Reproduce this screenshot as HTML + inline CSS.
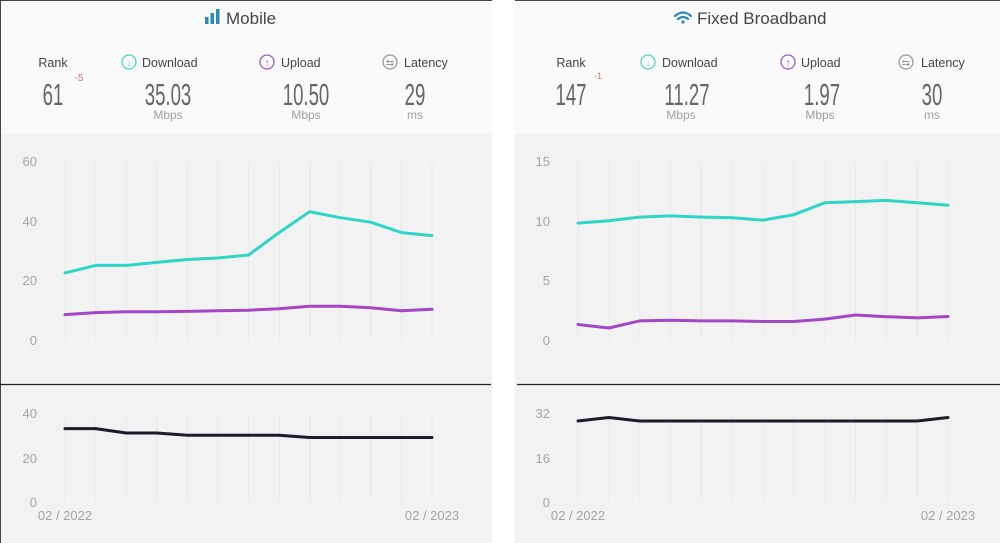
<!DOCTYPE html>
<html><head><meta charset="utf-8"><style>
html,body{margin:0;padding:0;background:#fff;}
svg{display:block;font-family:"Liberation Sans",sans-serif;}
.ax{fill:#a5a5a5;font-size:13px;}
.lb{fill:#444;font-size:12.5px;}
.big{fill:#666;font-size:31px;}
.un{fill:#a0a0a0;font-size:12px;}
.g{stroke:#e9e9e9;stroke-width:1;}
</style></head><body>
<svg width="1000" height="543" viewBox="0 0 1000 543">
<rect x="0" y="0" width="492" height="543" fill="#fafafa"/>
<rect x="0" y="134" width="492" height="409" fill="#f2f2f2"/>
<rect x="515" y="0" width="485" height="543" fill="#fafafa"/>
<rect x="515" y="134" width="485" height="409" fill="#f2f2f2"/>
<line x1="0" y1="0.5" x2="492" y2="0.5" stroke="#444"/>
<line x1="515" y1="0.5" x2="1000" y2="0.5" stroke="#444"/>
<line x1="0.5" y1="0" x2="0.5" y2="543" stroke="#444"/>
<line x1="0" y1="384.5" x2="491" y2="384.5" stroke="#222" stroke-width="1.3"/>
<line x1="517" y1="384.5" x2="1000" y2="384.5" stroke="#222" stroke-width="1.3"/>

<g fill="#2b8ab8"><rect x="205" y="17" width="3.5" height="7"/><rect x="210.5" y="13" width="3.5" height="11"/><rect x="216" y="9" width="3.5" height="15"/></g>
<text x="226" y="24" font-size="17" fill="#444">Mobile</text>
<text x="53" y="67" text-anchor="middle" class="lb">Rank</text>
<circle cx="129" cy="62" r="7" fill="none" stroke="#4fd3c4" stroke-width="1.3"/><text x="129" y="66" text-anchor="middle" font-size="10" fill="#4fd3c4">↓</text>
<text x="142" y="67" class="lb">Download</text>
<circle cx="267" cy="62" r="7" fill="none" stroke="#a05cc0" stroke-width="1.3"/><text x="267" y="66" text-anchor="middle" font-size="10" fill="#a05cc0">↑</text>
<text x="281" y="67" class="lb">Upload</text>
<circle cx="390" cy="62" r="7" fill="none" stroke="#999" stroke-width="1.3"/><text x="390" y="66" text-anchor="middle" font-size="10" fill="#999">⇆</text>
<text x="404" y="67" class="lb">Latency</text>
<g class="big" text-anchor="middle">
<text transform="translate(53,105) scale(0.6,1)">61</text>
<text transform="translate(168,105) scale(0.6,1)">35.03</text>
<text transform="translate(306,105) scale(0.6,1)">10.50</text>
<text transform="translate(415,105) scale(0.6,1)">29</text>
</g>
<text x="79" y="81" font-size="10" fill="#e07070" text-anchor="middle">-5</text>
<g class="un" text-anchor="middle"><text x="168" y="119">Mbps</text><text x="306" y="119">Mbps</text><text x="415" y="119">ms</text></g>

<g fill="none" stroke="#2b8ab8" stroke-width="2.2" stroke-linecap="round">
<path d="M675 16 Q683 9 691 16"/><path d="M678 19 Q683 15 688 19"/></g>
<circle cx="683" cy="22" r="1.6" fill="#2b8ab8"/>
<text x="697" y="24" font-size="17" fill="#444">Fixed Broadband</text>
<text x="571" y="67" text-anchor="middle" class="lb">Rank</text>
<circle cx="648" cy="62" r="7" fill="none" stroke="#4fd3c4" stroke-width="1.3"/><text x="648" y="66" text-anchor="middle" font-size="10" fill="#4fd3c4">↓</text>
<text x="662" y="67" class="lb">Download</text>
<circle cx="788" cy="62" r="7" fill="none" stroke="#a05cc0" stroke-width="1.3"/><text x="788" y="66" text-anchor="middle" font-size="10" fill="#a05cc0">↑</text>
<text x="801" y="67" class="lb">Upload</text>
<circle cx="906" cy="62" r="7" fill="none" stroke="#999" stroke-width="1.3"/><text x="906" y="66" text-anchor="middle" font-size="10" fill="#999">⇆</text>
<text x="921" y="67" class="lb">Latency</text>
<g class="big" text-anchor="middle">
<text transform="translate(571,105) scale(0.6,1)">147</text>
<text transform="translate(687,105) scale(0.6,1)">11.27</text>
<text transform="translate(822,105) scale(0.6,1)">1.97</text>
<text transform="translate(932,105) scale(0.6,1)">30</text>
</g>
<text x="598" y="79" font-size="9" fill="#e07070" text-anchor="middle">-1</text>
<g class="un" text-anchor="middle"><text x="681" y="119">Mbps</text><text x="820" y="119">Mbps</text><text x="932" y="119">ms</text></g>

<g class="g">
<path d="M65 161V340M95.6 161V340M126.2 161V340M156.7 161V340M187.3 161V340M217.9 161V340M248.5 161V340M279.1 161V340M309.6 161V340M340.2 161V340M370.8 161V340M401.4 161V340M432 161V340"/>
<path d="M65 413V502M95.6 413V502M126.2 413V502M156.7 413V502M187.3 413V502M217.9 413V502M248.5 413V502M279.1 413V502M309.6 413V502M340.2 413V502M370.8 413V502M401.4 413V502M432 413V502"/>
<path d="M578 161V340M608.8 161V340M639.7 161V340M670.5 161V340M701.3 161V340M732.2 161V340M763 161V340M793.8 161V340M824.7 161V340M855.5 161V340M886.3 161V340M917.2 161V340M948 161V340"/>
<path d="M578 413V502M608.8 413V502M639.7 413V502M670.5 413V502M701.3 413V502M732.2 413V502M763 413V502M793.8 413V502M824.7 413V502M855.5 413V502M886.3 413V502M917.2 413V502M948 413V502"/>
</g>

<g class="ax" text-anchor="end">
<text x="37" y="166">60</text><text x="37" y="226">40</text><text x="37" y="285">20</text><text x="37" y="345">0</text>
<text x="37" y="418">40</text><text x="37" y="463">20</text><text x="37" y="507">0</text>
<text x="550" y="166">15</text><text x="550" y="226">10</text><text x="550" y="285">5</text><text x="550" y="345">0</text>
<text x="550" y="418">32</text><text x="550" y="463">16</text><text x="550" y="507">0</text>
</g>
<g class="ax" text-anchor="middle">
<text x="65" y="520">02 / 2022</text><text x="432" y="520">02 / 2023</text>
<text x="578" y="520">02 / 2022</text><text x="948" y="520">02 / 2023</text>
</g>

<g fill="none" stroke-width="3" stroke-linejoin="round" stroke-linecap="round">
<polyline stroke="#2fd6c6" points="65,272.9 95.6,265.4 126.2,265.4 156.7,262.4 187.3,259.5 217.9,258 248.5,255 279.1,232.6 309.6,211.7 340.2,217.7 370.8,222.2 401.4,232.6 432,235.6"/>
<polyline stroke="#a347c4" points="65,314.6 95.6,312.6 126.2,311.7 156.7,311.7 187.3,311.4 217.9,310.8 248.5,310.2 279.1,308.7 309.6,306.3 340.2,306.3 370.8,307.8 401.4,310.8 432,309.3"/>
<polyline stroke="#1c1c2c" points="65,428.6 95.6,428.6 126.2,433 156.7,433 187.3,435.3 217.9,435.3 248.5,435.3 279.1,435.3 309.6,437.5 340.2,437.5 370.8,437.5 401.4,437.5 432,437.5"/>
<polyline stroke="#2fd6c6" points="578,223.1 608.8,220.7 639.7,217.1 670.5,215.9 701.3,217.1 732.2,217.7 763,220.1 793.8,214.7 824.7,202.8 855.5,201.6 886.3,200.4 917.2,202.8 948,205.2"/>
<polyline stroke="#a347c4" points="578,324.5 608.8,328 639.7,320.9 670.5,320.3 701.3,320.9 732.2,320.9 763,321.5 793.8,321.5 824.7,319.1 855.5,315 886.3,316.7 917.2,317.9 948,316.5"/>
<polyline stroke="#1c1c2c" points="578,421 608.8,417.5 639.7,421 670.5,421 701.3,421 732.2,421 763,421 793.8,421 824.7,421 855.5,421 886.3,421 917.2,421 948,417.5"/>
</g>
</svg>
</body></html>
